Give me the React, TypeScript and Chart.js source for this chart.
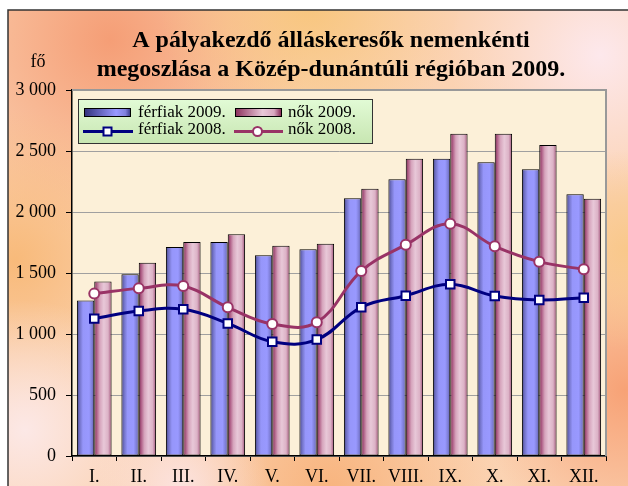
import { useEffect, useRef } from "react";
import { Chart, registerables } from "chart.js";

Chart.register(...registerables);

const categories = ["I.", "II.", "III.", "IV.", "V.", "VI.", "VII.", "VIII.", "IX.", "X.", "XI.", "XII."];
const ferfiak2009 = [1275, 1490, 1713, 1754, 1645, 1694, 2112, 2268, 2437, 2407, 2350, 2145];
const nok2009 = [1430, 1585, 1754, 1817, 1724, 1740, 2191, 2437, 2642, 2642, 2549, 2109];
const ferfiak2008 = [1126, 1189, 1202, 1087, 937, 954, 1219, 1314, 1407, 1311, 1279, 1298];
const nok2008 = [1331, 1374, 1393, 1219, 1082, 1096, 1516, 1732, 1904, 1719, 1593, 1530];
const titleLines = ["A pályakezdő álláskeresők nemenkénti", "megoszlása a Közép-dunántúli régióban 2009."];
const unitLabel = "fő";

const SERIF = "'Liberation Serif', 'DejaVu Serif', serif";

function blueGrad(ctx: CanvasRenderingContext2D, x0: number, x1: number) {
  const g = ctx.createLinearGradient(x0, 0, x1, 0);
  g.addColorStop(0, "#44448a");
  g.addColorStop(0.15, "#7070c4");
  g.addColorStop(0.35, "#9696fa");
  g.addColorStop(0.7, "#9999ff");
  g.addColorStop(0.88, "#7c7cd4");
  g.addColorStop(1, "#5656a0");
  return g;
}
function pinkGrad(ctx: CanvasRenderingContext2D, x0: number, x1: number) {
  const g = ctx.createLinearGradient(x0, 0, x1, 0);
  g.addColorStop(0, "#7a2a52");
  g.addColorStop(0.15, "#b06088");
  g.addColorStop(0.32, "#d6a4bc");
  g.addColorStop(0.55, "#e8c8d8");
  g.addColorStop(0.8, "#dcb2c6");
  g.addColorStop(0.92, "#b87898");
  g.addColorStop(1, "#8a3a62");
  return g;
}

const bgPlugin = {
  id: "bgPlugin",
  beforeDraw(chart: any) {
    const { ctx, width, height, chartArea } = chart;
    ctx.save();
    ctx.fillStyle = "#ffffff";
    ctx.fillRect(0, 0, width, height);
    const fx = 8, fy = 10;
    ctx.beginPath();
    ctx.rect(fx, fy, width - fx + 10, height - fy + 10);
    ctx.clip();
    ctx.fillStyle = "#fbd2b2";
    ctx.fillRect(fx, fy, width, height);
    const spots: [number, number, number, string][] = [
      [330, 300, 300, "rgba(251,214,180,1)"],
      [110, 40, 200, "rgba(245,158,118,1)"],
      [310, 5, 150, "rgba(248,198,126,1)"],
      [600, 55, 150, "rgba(253,232,236,1)"],
      [15, 260, 150, "rgba(248,186,122,1)"],
      [25, 430, 130, "rgba(252,232,230,1)"],
      [625, 390, 150, "rgba(247,162,118,1)"],
      [330, 490, 170, "rgba(248,180,126,1)"],
      [628, 250, 100, "rgba(249,200,138,1)"],
      [180, 486, 90, "rgba(252,226,222,1)"],
    ];
    for (const [x, y, r, c] of spots) {
      const g = ctx.createRadialGradient(x, y, 0, x, y, r);
      g.addColorStop(0, c);
      g.addColorStop(1, c.replace(",1)", ",0)"));
      ctx.fillStyle = g;
      ctx.fillRect(fx, fy, width, height);
    }
    ctx.restore();
    ctx.save();
    ctx.strokeStyle = "#333333";
    ctx.lineWidth = 1.5;
    ctx.strokeRect(fx, fy, width, height);
    ctx.fillStyle = "#fcf0d8";
    ctx.fillRect(chartArea.left, chartArea.top, chartArea.right - chartArea.left, chartArea.bottom - chartArea.top);
    ctx.fillStyle = "#000";
    ctx.font = `bold 24px ${SERIF}`;
    ctx.textAlign = "center";
    ctx.textBaseline = "middle";
    ctx.fillText(titleLines[0], 331, 41);
    ctx.fillText(titleLines[1], 331, 70);
    ctx.font = `18px ${SERIF}`;
    ctx.fillText(unitLabel, 38, 62);
    ctx.restore();
  },
  beforeDatasetsDraw(chart: any) {
    const { ctx, chartArea } = chart;
    ctx.save();
    ctx.strokeStyle = "#999999";
    ctx.lineWidth = 2;
    ctx.beginPath();
    ctx.moveTo(chartArea.left, chartArea.top);
    ctx.lineTo(chartArea.right, chartArea.top);
    ctx.lineTo(chartArea.right, chartArea.bottom);
    ctx.stroke();
    ctx.restore();
    chart.data.datasets.forEach((ds: any, i: number) => {
      if (ds.type === "line") return;
      const meta = chart.getDatasetMeta(i);
      meta.data.forEach((el: any) => {
        const x0 = el.x - el.width / 2;
        const x1 = el.x + el.width / 2;
        const grad = ds.gradKind === "blue" ? blueGrad(ctx, x0, x1) : pinkGrad(ctx, x0, x1);
        el.options = Object.assign(Object.create(Object.getPrototypeOf(el.options)), el.options, { backgroundColor: grad });
      });
    });
  },
  afterDraw(chart: any) {
    const { ctx } = chart;
    const ds = chart.data.datasets;
    ctx.save();
    const lx = 78, ly = 99, lw = 294, lh = 44;
    const g = ctx.createLinearGradient(0, ly, 0, ly + lh);
    g.addColorStop(0, "#e2fbd6");
    g.addColorStop(1, "#c8e6b2");
    ctx.fillStyle = g;
    ctx.fillRect(lx, ly, lw, lh);
    ctx.strokeStyle = "#333";
    ctx.lineWidth = 1;
    ctx.strokeRect(lx + 0.5, ly + 0.5, lw, lh);
    ctx.font = `17px ${SERIF}`;
    ctx.fillStyle = "#000";
    ctx.textAlign = "left";
    ctx.textBaseline = "middle";
    const sw = (x: number, kind: string) => {
      const gg = ctx.createLinearGradient(x, 0, x + 46, 0);
      if (kind === "blue") {
        gg.addColorStop(0, "#30307a");
        gg.addColorStop(0.7, "#9999ff");
        gg.addColorStop(0.9, "#8080dd");
        gg.addColorStop(1, "#404090");
      } else {
        gg.addColorStop(0, "#8a2e5a");
        gg.addColorStop(0.6, "#e8c8d8");
        gg.addColorStop(0.85, "#d8a8c0");
        gg.addColorStop(1, "#8a2e5a");
      }
      ctx.fillStyle = gg;
      ctx.fillRect(x, 108.5, 46, 8);
      ctx.strokeStyle = "#000";
      ctx.strokeRect(x + 0.5, 108.5, 46, 8);
    };
    sw(84, "blue");
    sw(235, "pink");
    ctx.fillStyle = "#000";
    ctx.fillText(ds[2].label, 138, 113);
    ctx.fillText(ds[3].label, 288, 113);
    const ry = 131.5;
    ctx.lineWidth = 3;
    ctx.strokeStyle = "#000080";
    ctx.beginPath();
    ctx.moveTo(83, ry);
    ctx.lineTo(133, ry);
    ctx.stroke();
    ctx.fillStyle = "#fff";
    ctx.lineWidth = 2;
    ctx.fillRect(103.5, ry - 4, 8, 8);
    ctx.strokeRect(103.5, ry - 4, 8, 8);
    ctx.lineWidth = 3;
    ctx.strokeStyle = "#993366";
    ctx.beginPath();
    ctx.moveTo(234, ry);
    ctx.lineTo(283, ry);
    ctx.stroke();
    ctx.lineWidth = 2;
    ctx.beginPath();
    ctx.arc(257.5, ry, 4.5, 0, Math.PI * 2);
    ctx.fill();
    ctx.stroke();
    ctx.fillStyle = "#000";
    ctx.fillText(ds[0].label, 138, 130);
    ctx.fillText(ds[1].label, 288, 130);
    ctx.restore();
  },
};

function fmt(v: number) {
  if (v >= 1000) {
    return `${Math.floor(v / 1000)} ${String(v % 1000).padStart(3, "0")}`;
  }
  return String(v);
}

export default function App() {
  const ref = useRef<HTMLCanvasElement>(null);
  useEffect(() => {
    if (!ref.current) return;
    const chart = new Chart(ref.current, {
      type: "bar",
      data: {
        labels: categories,
        datasets: [
          {
            type: "line",
            label: "férfiak 2008.",
            data: ferfiak2008,
            borderColor: "#000080",
            borderWidth: 3,
            tension: 0.4,
            pointStyle: "rect",
            pointRadius: 6,
            pointBorderWidth: 2,
            pointBackgroundColor: "#ffffff",
            pointBorderColor: "#000080",
            order: 0,
          } as any,
          {
            type: "line",
            label: "nők 2008.",
            data: nok2008,
            borderColor: "#993366",
            borderWidth: 3,
            tension: 0.4,
            pointStyle: "circle",
            pointRadius: 5,
            pointBorderWidth: 2,
            pointBackgroundColor: "#ffffff",
            pointBorderColor: "#993366",
            order: 1,
          } as any,
          {
            type: "bar",
            label: "férfiak 2009.",
            data: ferfiak2009,
            backgroundColor: () => "#9999ff",
            borderColor: "#000000",
            borderWidth: 1,
            borderSkipped: false,
            categoryPercentage: 0.78,
            barPercentage: 1,
            gradKind: "blue",
            order: 2,
          } as any,
          {
            type: "bar",
            label: "nők 2009.",
            data: nok2009,
            backgroundColor: () => "#e8c8d8",
            borderColor: "#000000",
            borderWidth: 1,
            borderSkipped: false,
            categoryPercentage: 0.78,
            barPercentage: 1,
            gradKind: "pink",
            order: 3,
          } as any,
        ],
      },
      options: {
        animation: false,
        responsive: false,
        devicePixelRatio: 1,
        layout: { padding: { top: 90, right: 22, left: 0, bottom: 0 } },
        plugins: {
          legend: { display: false },
          title: { display: false },
          tooltip: { enabled: false },
        },
        scales: {
          x: {
            offset: true,
            grid: { drawOnChartArea: false, tickLength: 5, tickColor: "#000", offset: true, lineWidth: 1 },
            border: { color: "#000", width: 1.5 },
            ticks: { color: "#000", font: { family: SERIF, size: 18 }, padding: 5, maxRotation: 0, autoSkip: false },
            afterFit: (s: any) => { s.height = 30; },
          },
          y: {
            min: 0,
            max: 3000,
            grid: { color: "#a0a0a0", tickLength: 6, tickColor: "#000", lineWidth: 1 },
            border: { color: "#000", width: 1.5 },
            ticks: { stepSize: 500, color: "#000", font: { family: SERIF, size: 18 }, padding: 10, callback: (v: any) => fmt(Number(v)) },
            afterFit: (s: any) => { s.width = 72; },
          },
        },
      },
      plugins: [bgPlugin],
    });
    return () => chart.destroy();
  }, []);
  return (
    <div style={{ position: "fixed", left: 0, top: 0, width: 628, height: 486 }}>
      <canvas ref={ref} width={628} height={486} style={{ width: 628, height: 486, display: "block" }} />
    </div>
  );
}
